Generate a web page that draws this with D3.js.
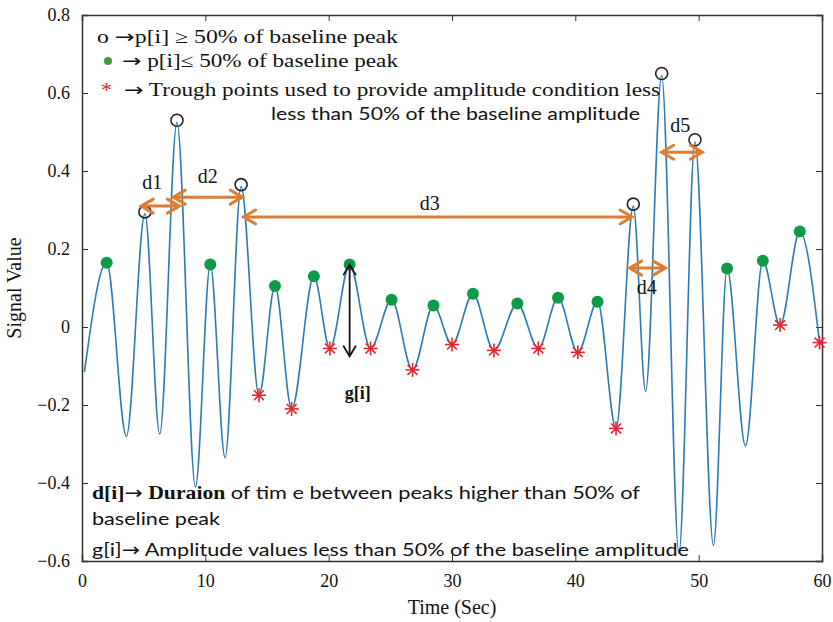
<!DOCTYPE html>
<html>
<head>
<meta charset="utf-8">
<script src="https://cdn.jsdelivr.net/npm/d3@7"></script>
<style>
  body { margin: 0; background: #fff; }
  text { fill: #111; }
  .serif { font-family: "Liberation Serif", "DejaVu Serif", serif; }
  .sans { font-family: Lato, "Open Sans", sans-serif; }
  .arr { font-family: "DejaVu Sans", sans-serif; }
</style>
</head>
<body>
<script>
// extrema of the signal
var timeSec = [0.2, 2.0, 3.6, 5.1, 6.3, 7.7, 9.2, 10.4, 11.6, 12.9, 14.35, 15.65, 17.0, 18.8,
  20.1, 21.7, 23.4, 25.1, 26.8, 28.5, 30.0, 31.7, 33.4, 35.3, 37.0, 38.6, 40.2, 41.8,
  43.3, 44.7, 45.7, 47.0, 48.4, 49.7, 51.2, 52.3, 53.8, 55.2, 56.6, 58.2, 59.8];
var signal = [-0.115, 0.165, -0.28, 0.29, -0.275, 0.525, -0.41, 0.16, -0.335, 0.36, -0.175, 0.105, -0.21, 0.13,
  -0.055, 0.16, -0.055, 0.07, -0.11, 0.055, -0.045, 0.085, -0.06, 0.06, -0.055, 0.075, -0.065, 0.065,
  -0.26, 0.31, -0.165, 0.645, -0.58, 0.475, -0.56, 0.15, -0.305, 0.17, 0.005, 0.245, -0.04];
// o = peak above 50% of baseline, g = peak below, s = trough star
var kind = ["", "g", "", "o", "", "o", "", "g", "", "o", "s", "g", "s", "g",
  "s", "g", "s", "g", "s", "g", "s", "g", "s", "g", "s", "g", "s", "g",
  "s", "o", "", "o", "", "o", "", "g", "", "g", "s", "g", "s"];

var xTicks = [0, 10, 20, 30, 40, 50, 60];
var yTicks = [-0.6, -0.4, -0.2, 0, 0.2, 0.4, 0.6, 0.8];

// duration arrows d1..d5
var dLabels = ["d1", "d2", "d3", "d4", "d5"];
var dStart = [4.8, 7.4, 13.1, 44.4, 47.0];
var dEnd = [7.9, 13.0, 44.6, 47.3, 50.3];
var dLevel = [0.31, 0.333, 0.282, 0.151, 0.448];
var dLabelT = [5.7, 10.2, 28.2, 45.8, 48.5];
var dLabelV = [0.355, 0.37, 0.3, 0.085, 0.5];

var W = 833, H = 622;
var margin = { top: 15, right: 11, bottom: 61, left: 82 };

var svg = d3.select("body").append("svg").attr("width", W).attr("height", H);

var x = d3.scaleLinear().domain([0, 60]).range([margin.left, W - margin.right]);
var y = d3.scaleLinear().domain([-0.6, 0.8]).range([H - margin.bottom, margin.top]);

var orange = "#dc7d32";
var blue = "#2b7bb4";

// axes (matlab style box with inward ticks)
var fmt = function (d) { return d === 0 ? "0" : d3.format(".1f")(d); };
svg.append("g").attr("transform", "translate(0," + y(-0.6) + ")")
  .call(d3.axisBottom(x).tickValues(xTicks).tickSize(-6).tickPadding(13).tickFormat(d3.format("d")));
svg.append("g").attr("transform", "translate(0," + y(0.8) + ")")
  .call(d3.axisTop(x).tickValues(xTicks).tickSize(-6).tickFormat(""));
svg.append("g").attr("transform", "translate(" + x(0) + ",0)")
  .call(d3.axisLeft(y).tickValues(yTicks).tickSize(-6).tickPadding(12).tickFormat(fmt));
svg.append("g").attr("transform", "translate(" + x(60) + ",0)")
  .call(d3.axisRight(y).tickValues(yTicks).tickSize(-6).tickFormat(""));
svg.selectAll(".domain").attr("stroke", "#333").attr("stroke-width", 1.5);
svg.selectAll(".tick line").attr("stroke", "#333");
svg.selectAll(".tick text").attr("class", "serif").style("font-size", "18px").attr("fill", "#111");

svg.append("text").attr("class", "serif").attr("text-anchor", "middle")
  .attr("transform", "translate(21," + y(0.1) + ") rotate(-90)")
  .style("font-size", "20px").text("Signal Value");
svg.append("text").attr("class", "serif").attr("text-anchor", "middle")
  .attr("x", x(30)).attr("y", 614).style("font-size", "20px").text("Time (Sec)");

// signal line
var pts = timeSec.map(function (t, i) { return [t, signal[i]]; });
var line = d3.line().x(function (d) { return x(d[0]); }).y(function (d) { return y(d[1]); })
  .curve(d3.curveMonotoneX);
svg.append("path").datum(pts).attr("d", line)
  .attr("fill", "none").attr("stroke", blue).attr("stroke-width", 1.6);

// markers
var marks = pts.map(function (p, i) { return { t: p[0], v: p[1], k: kind[i] }; });

svg.selectAll(".big").data(marks.filter(function (d) { return d.k === "o"; }))
  .enter().append("circle")
  .attr("cx", function (d) { return x(d.t); })
  .attr("cy", function (d) { return y(d.v) - 2; })
  .attr("r", 6).attr("fill", "none").attr("stroke", "#222").attr("stroke-width", 1.6);

svg.selectAll(".small").data(marks.filter(function (d) { return d.k === "g"; }))
  .enter().append("circle")
  .attr("cx", function (d) { return x(d.t); })
  .attr("cy", function (d) { return y(d.v); })
  .attr("r", 6).attr("fill", "#0e9a48");

function star(g, cx, cy, r) {
  for (var a = 0; a < 4; a++) {
    var ang = a * Math.PI / 4;
    g.append("line")
      .attr("x1", cx - r * Math.cos(ang)).attr("y1", cy - r * Math.sin(ang))
      .attr("x2", cx + r * Math.cos(ang)).attr("y2", cy + r * Math.sin(ang))
      .attr("stroke", "#e5262b").attr("stroke-width", 1.6);
  }
}
var stars = svg.append("g");
marks.filter(function (d) { return d.k === "s"; }).forEach(function (d) {
  star(stars, x(d.t), y(d.v), 7);
});

// arrows
function head(g, px, py, dir, len, wid, color, sw) {
  g.append("path")
    .attr("d", "M" + (px - dir[0] * len - dir[1] * wid) + "," + (py - dir[1] * len - dir[0] * wid) +
      "L" + px + "," + py +
      "L" + (px - dir[0] * len + dir[1] * wid) + "," + (py - dir[1] * len + dir[0] * wid))
    .attr("fill", "none").attr("stroke", color).attr("stroke-width", sw).attr("stroke-linecap", "round");
}
var arrows = svg.append("g");
dLabels.forEach(function (lab, i) {
  var x1 = x(dStart[i]), x2 = x(dEnd[i]), yy = y(dLevel[i]);
  arrows.append("line").attr("x1", x1).attr("x2", x2).attr("y1", yy).attr("y2", yy)
    .attr("stroke", orange).attr("stroke-width", 3);
  head(arrows, x1, yy, [-1, 0], 12, 7, orange, 3);
  head(arrows, x2, yy, [1, 0], 12, 7, orange, 3);
  arrows.append("text").attr("class", "serif").attr("text-anchor", "middle")
    .attr("x", x(dLabelT[i])).attr("y", y(dLabelV[i]))
    .style("font-size", "20px").text(lab);
});

// g[i] amplitude arrow
var gx = x(21.7), gy1 = y(0.16), gy2 = y(-0.075);
arrows.append("line").attr("x1", gx).attr("x2", gx).attr("y1", gy1).attr("y2", gy2)
  .attr("stroke", "#111").attr("stroke-width", 1.8);
head(arrows, gx, gy1, [0, -1], 10, 6, "#111", 1.8);
head(arrows, gx, gy2, [0, 1], 10, 6, "#111", 1.8);
arrows.append("text").attr("class", "serif").attr("x", x(21.3)).attr("y", y(-0.185))
  .style("font-size", "18px").style("font-weight", "bold").text("g[i]");

// legend text
var leg = svg.append("g");
function legLine(xp, yp, len, parts) {
  var t = leg.append("text").attr("x", xp).attr("y", yp).style("font-size", "18px")
    .attr("textLength", len).attr("lengthAdjust", "spacingAndGlyphs");
  parts.forEach(function (p) {
    var s = t.append("tspan").attr("class", p[0]).text(p[1]);
    if (p[2]) s.style("font-weight", "bold");
  });
}
legLine(97, 43, 301, [["serif", "o "], ["arr", "\u2192"], ["serif", "p[i]  \u2265 50% of baseline peak"]]);
leg.append("circle").attr("cx", 108).attr("cy", 61).attr("r", 4).attr("fill", "#3f9a45");
legLine(122, 67, 276, [["arr", "\u2192"], ["serif", " p[i]\u2264  50% of baseline peak"]]);
leg.append("text").attr("x", 101).attr("y", 97).style("font-size", "22px")
  .style("fill", "#e5262b").attr("class", "serif").text("*");
legLine(124, 96, 536, [["arr", "\u2192"], ["serif", " Trough points used to provide amplitude condition less"]]);
legLine(271, 120, 369, [["sans", "less than 50% of the baseline amplitude"]]);

legLine(92, 499, 548, [["serif", "d[i]", true], ["arr", "\u2192"], ["serif", " Duraion ", true],
  ["sans", "of tim e between peaks  higher than 50% of"]]);
legLine(92, 525, 128, [["sans", "baseline peak"]]);
legLine(92, 556, 597, [["sans", "g[i]"], ["arr", "\u2192"], ["sans", " Amplitude  values less than 50% of the baseline amplitude"]]);
</script>
</body>
</html>
